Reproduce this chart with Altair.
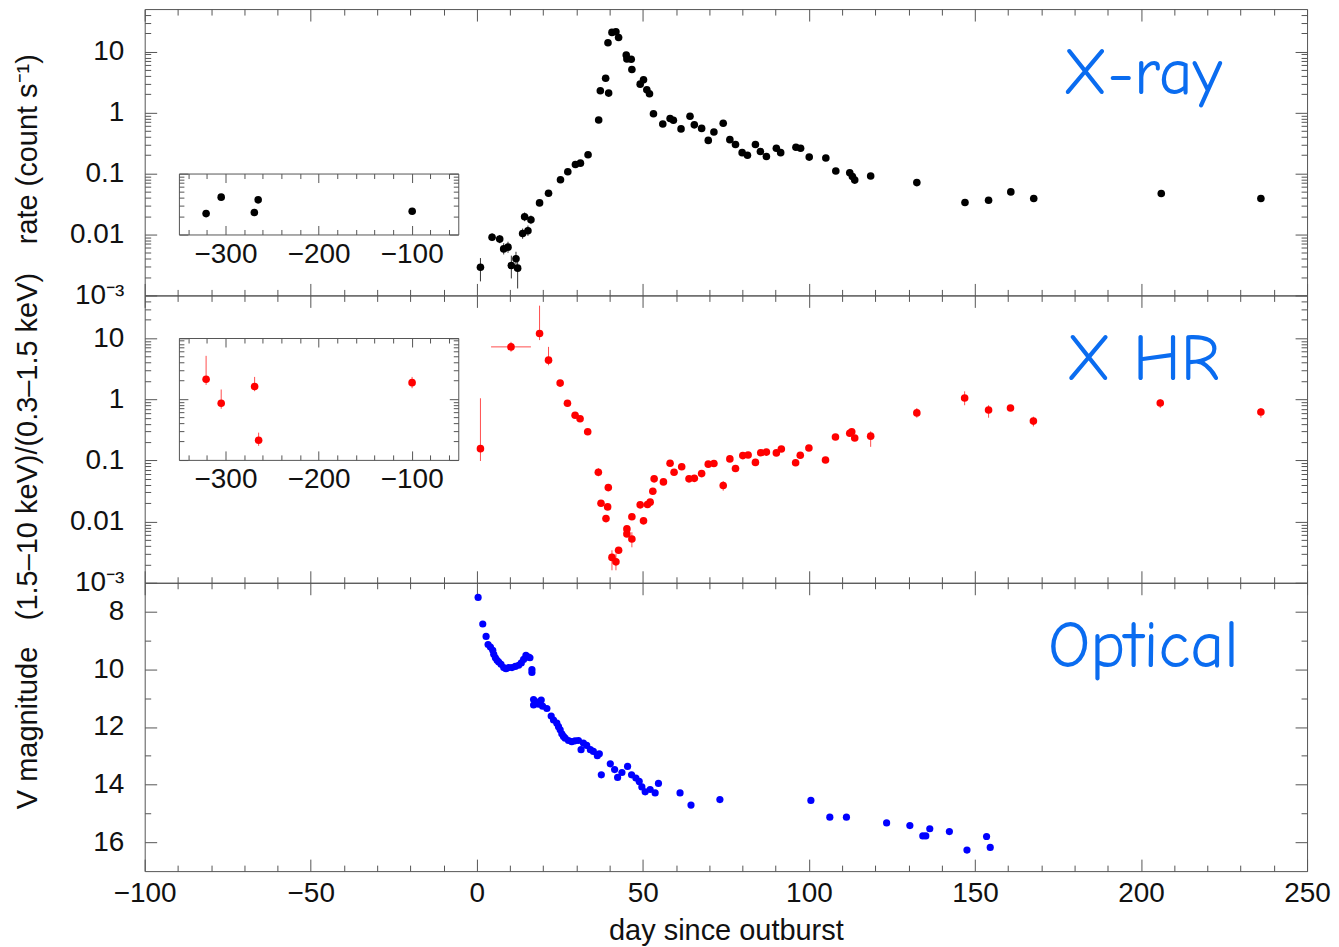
import math
import altair as alt
import pandas as pd

# ------------------------------------------------------------------ data
# X-ray count rate (top panel)
xray_day = [1.1, 4.6, 6.9, 8.1, 9.4, 10.4, 11.8, 12.3, 13.8, 14.4, 15.4, 16.3,
            18.9, 21.6, 25.2, 27.4, 29.7, 31.2, 33.5, 36.7, 37.2, 38.8, 39.7, 39.5,
            40.7, 41.9, 42.7, 45.0, 46.5, 45.2, 46.7, 50.2, 49.2, 51.2, 52.0, 53.2,
            56.0, 58.2, 59.2, 61.5, 64.2, 65.5, 67.7, 69.7, 71.4, 74.2, 76.2, 77.9,
            79.9, 81.5, 83.9, 85.4, 87.2, 90.2, 91.5, 96.1, 97.5, 100.1, 105.1, 108.1,
            112.3, 113.1, 113.8, 118.6, 132.5, 147.0, 154.1, 160.8, 167.7, 206.1, 236.1]
xray_rate = [0.0029, 0.0090, 0.0084, 0.0058, 0.0062, 0.0031, 0.0040, 0.0028, 0.0104, 0.0195, 0.0115, 0.0174,
             0.033, 0.0475, 0.079, 0.107, 0.141, 0.148, 0.203, 0.757, 2.28, 3.67, 2.09, 14.0,
             20.7, 21.2, 17.1, 8.8, 7.5, 7.6, 5.1, 3.45, 2.93, 2.37, 2.04, 0.96,
             0.65, 0.80, 0.75, 0.54, 0.87, 0.63, 0.55, 0.35, 0.48, 0.67, 0.36, 0.30,
             0.22, 0.20, 0.30, 0.23, 0.19, 0.26, 0.22, 0.27, 0.26, 0.186, 0.18, 0.11,
             0.103, 0.089, 0.078, 0.091, 0.071, 0.0334, 0.0365, 0.050, 0.039, 0.047, 0.039]
xray_err_day = [1.1, 4.6, 6.9, 8.1, 9.4, 10.4, 11.8, 12.3, 13.8, 14.4, 15.4, 16.3]
xray_err_lo = [0.0017, 0.0078, 0.0072, 0.0047, 0.0050, 0.0019, 0.0030, 0.0013, 0.0085, 0.0165, 0.0095, 0.0148]
xray_err_hi = [0.0041, 0.0105, 0.0098, 0.0072, 0.0076, 0.0045, 0.0052, 0.0040, 0.0125, 0.0230, 0.0140, 0.0205]
# pre-outburst X-ray (inset)
xray_pre_day = [-320.8, -304.6, -269.0, -264.9, -99.5]
xray_pre_rate = [0.022, 0.041, 0.023, 0.037, 0.024]

# hardness ratio (middle panel)
hr_day = [1.1, 10.3, 18.9, 21.6, 25.1, 27.3, 29.6, 31.1, 33.4, 36.6, 37.4, 39.6,
          39.4, 38.9, 40.7, 41.9, 42.7, 45.2, 45.2, 46.7, 46.7, 49.2, 50.2, 51.4,
          52.2, 53.0, 53.4, 56.2, 58.2, 59.4, 61.7, 63.9, 65.5, 67.7, 69.7, 71.4,
          74.2, 76.2, 77.9, 80.1, 81.7, 83.9, 85.5, 87.2, 90.2, 91.7, 96.0, 97.4,
          100.0, 105.0, 108.0, 112.3, 112.9, 113.8, 118.6, 132.5, 146.9, 154.1, 160.7, 167.6,
          205.8, 236.1]
hr_val = [0.156, 7.2, 11.9, 4.37, 1.84, 0.86, 0.55, 0.48, 0.295, 0.064, 0.020, 0.036,
          0.0174, 0.0112, 0.0026, 0.0022, 0.0034, 0.0076, 0.0063, 0.0052, 0.012, 0.0188, 0.0103, 0.019,
          0.0208, 0.0314, 0.050, 0.0446, 0.090, 0.064, 0.079, 0.050, 0.051, 0.061, 0.087, 0.089,
          0.039, 0.106, 0.074, 0.12, 0.123, 0.093, 0.134, 0.137, 0.133, 0.154, 0.092, 0.122,
          0.16, 0.102, 0.242, 0.278, 0.295, 0.233, 0.25, 0.60, 1.05, 0.67, 0.72, 0.44,
          0.87, 0.62]
hr_err_day = [1.1, 10.3, 18.9, 21.6, 36.6, 40.7, 41.9, 46.7, 74.2, 118.6, 132.5, 146.9, 154.1, 167.6, 205.8, 236.1]
hr_err_lo = [0.098, 6.0, 9.3, 3.6, 0.055, 0.0016, 0.0016, 0.0038, 0.032, 0.167, 0.50, 0.80, 0.50, 0.36, 0.72, 0.50]
hr_err_hi = [1.04, 8.7, 34.0, 7.2, 0.075, 0.0034, 0.0030, 0.0067, 0.046, 0.30, 0.72, 1.35, 0.80, 0.52, 1.00, 0.72]
hr_xerr_val = [7.2]
hr_xerr_lo = [4.3]
hr_xerr_hi = [16.3]
# pre-outburst hardness ratio (inset)
hr_pre_day = [-320.8, -304.6, -268.7, -264.4, -99.6]
hr_pre_val = [2.1, 0.85, 1.6, 0.21, 1.85]
hr_pre_lo = [1.7, 0.69, 1.34, 0.17, 1.5]
hr_pre_hi = [5.1, 1.43, 2.3, 0.28, 2.3]

# optical V magnitude (bottom panel)
opt_day = [0.4, 1.8, 2.8, 3.4, 4.1, 4.8, 5.1, 5.6, 6.1, 6.6, 7.3, 8.1, 8.8, 9.6, 10.6,
           11.6, 12.6, 13.4, 14.1, 14.8, 15.6, 16.0, 16.6, 16.6, 17.1, 17.1, 17.8, 18.6,
           19.4, 19.8, 21.1, 22.4, 23.1, 24.1, 24.6, 25.1, 25.6, 26.1, 26.6, 27.6, 28.6,
           29.6, 30.6, 31.4, 32.1, 33.1, 34.2, 35.1, 36.3, 36.9, 37.5, 40.2, 41.5, 42.4,
           43.7, 45.4, 46.6, 47.9, 48.9, 49.7, 50.7, 52.2, 53.7, 54.7, 61.2, 64.5, 73.2,
           100.6, 106.3, 111.3, 123.4, 130.4, 134.3, 135.2, 136.4, 142.3, 147.6, 153.5, 154.6]
opt_mag = [7.51, 8.43, 8.86, 9.14, 9.23, 9.34, 9.48, 9.60, 9.69, 9.75, 9.83, 9.94, 9.98, 9.94, 9.94,
           9.90, 9.86, 9.78, 9.66, 9.52, 9.58, 9.60, 10.01, 10.11, 11.05, 11.24, 11.13, 11.21,
           11.07, 11.28, 11.36, 11.62, 11.76, 11.87, 11.99, 12.10, 12.24, 12.33, 12.39, 12.47, 12.51,
           12.48, 12.47, 12.79, 12.56, 12.64, 12.79, 12.85, 13.00, 12.93, 13.66, 13.28, 13.48, 13.75,
           13.58, 13.37, 13.66, 13.77, 13.89, 14.08, 14.25, 14.17, 14.29, 13.96, 14.29, 14.71, 14.52,
           14.55, 15.13, 15.13, 15.33, 15.42, 15.78, 15.78, 15.53, 15.63, 16.27, 15.80, 16.18]

# panel annotations
panel_text = ["X-ray", "X HR", "Optical"]
panel_text_day = [200.4, 200.6, 200.7]
panel_text_pos = [2.0, 2.06, 9.93]

# tick values / labels
x_major = [-100, -50, 0, 50, 100, 150, 200, 250]
x_minor = [-90, -80, -70, -60, -40, -30, -20, -10, 10, 20, 30, 40, 60, 70, 80, 90,
           110, 120, 130, 140, 160, 170, 180, 190, 210, 220, 230, 240]
log_major = [0.001, 0.01, 0.1, 1, 10]
log_minor = [m * 10.0 ** e for e in range(-3, 2) for m in range(2, 10) if m * 10.0 ** e < 50]
mag_major = [8, 10, 12, 14, 16]
mag_minor = [9, 11, 13, 15]
ins_x_major = [-300, -200, -100]
ins_x_minor = [-340, -320, -280, -260, -240, -220, -180, -160, -140, -120, -80, -60]
ins_top_major = [0.01, 0.1]
ins_top_minor = [0.02, 0.03, 0.04, 0.05, 0.06, 0.07, 0.08, 0.09]
ins_mid_major = [0.1, 1, 10]
ins_mid_minor = [0.2, 0.3, 0.4, 0.5, 0.6, 0.7, 0.8, 0.9, 2, 3, 4, 5, 6, 7, 8, 9]

# ------------------------------------------------------------------ layout
W, H = 1165, 864
Y1, Y2 = 287, 575
INS_L, INS_R = 34.3, 314.3
GRAY = "#555555"
INK = "#111111"
FONT = "Liberation Sans"
MAJ, MIN = 12, 6
IMAJ, IMIN = 9, 5
LAB_FS = 28
TIT_FS = 29


def ytop_px(v):
    return Y1 - (math.log10(v) + 3) / (math.log10(50) + 3) * Y1


SCALES = {
    "x": ([-100, 250], [0, W], False),
    "top": ([1e-3, 50], [Y1, 0], True),
    "mid": ([1e-3, 50], [Y2, Y1], True),
    "bot": ([7, 17], [Y2, H], False),
    "xin": ([-350, -50], [INS_L, INS_R], False),
    "yin_top": ([0.01, 0.1], [ytop_px(0.01), ytop_px(0.1)], True),
    "yin_mid": ([0.1, 10], [Y1 + ytop_px(0.1), Y1 + ytop_px(10)], True),
}


def S(name):
    dom, rng, lg = SCALES[name]
    if lg:
        return alt.Scale(type="log", domain=dom, range=rng, nice=False)
    return alt.Scale(domain=dom, range=rng, nice=False, zero=False)


def edge(orient, pos, size, values, domain):
    off = {"top": -pos, "bottom": pos - H, "left": -pos, "right": pos - W}[orient]
    return alt.Axis(orient=orient, offset=off, values=values, tickSize=size, ticks=True,
                    labels=False, domain=domain, domainColor=GRAY, domainWidth=1,
                    tickColor=GRAY, tickWidth=1, title=None, grid=False)


def axes_layer(xname, yname, xaxis, yaxis):
    df = pd.DataFrame({"ax": [SCALES[xname][0][0]], "ay": [SCALES[yname][0][0]]})
    return alt.Chart(df).mark_point(opacity=0, size=1).encode(
        x=alt.X("ax:Q", scale=S(xname), axis=xaxis),
        y=alt.Y("ay:Q", scale=S(yname), axis=yaxis),
    )


def frame_layers(xname, yname, top, bot, left, right, xmaj, xmin, ymaj, ymin,
                 big, small, extra_x=None, extra_y=None):
    xs = [edge("bottom", top, big, xmaj, True), edge("bottom", top, small, xmin, False),
          edge("top", bot, big, xmaj, True), edge("top", bot, small, xmin, False)]
    ys = [edge("right", left, big, ymaj, True), edge("right", left, small, ymin, False),
          edge("left", right, big, ymaj, True), edge("left", right, small, ymin, False)]
    if extra_x is not None:
        xs.append(extra_x)
    if extra_y is not None:
        ys.append(extra_y)
    out = []
    for i in range(max(len(xs), len(ys))):
        out.append(axes_layer(xname, yname, xs[i] if i < len(xs) else None,
                              ys[i] if i < len(ys) else None))
    return out


LOG_EXPR = "datum.value < 0.002 ? '10⁻³' : format(datum.value, '~g')"


def ylab(values, title, title_y, expr=None):
    kw = dict(orient="left", offset=0, values=values, ticks=False, tickSize=0, domain=False,
              labelPadding=21, labelFont=FONT, labelFontSize=LAB_FS, labelColor=INK,
              labelOverlap=False, labelFlush=False,
              title=title, titleFont=FONT, titleFontSize=TIT_FS, titleFontWeight="normal",
              titleColor=INK, titleX=-117, titleY=title_y, titleBaseline="middle", grid=False)
    if expr:
        kw["labelExpr"] = expr
    return alt.Axis(**kw)


x_label_axis = alt.Axis(orient="bottom", offset=0, values=x_major, ticks=False, tickSize=0,
                        domain=False, labelPadding=8, labelFont=FONT, labelFontSize=LAB_FS,
                        labelColor=INK, labelFlush=False, labelOverlap=False,
                        title="day since outburst", titleFont=FONT, titleFontSize=TIT_FS,
                        titleFontWeight="normal", titleColor=INK, titleY=60,
                        titleBaseline="middle", grid=False)


def ins_x_label_axis(bot):
    return alt.Axis(orient="bottom", offset=bot - H, values=ins_x_major, ticks=False, tickSize=0,
                    domain=False, labelPadding=6, labelFont=FONT, labelFontSize=LAB_FS,
                    labelColor=INK, labelFlush=False, labelOverlap=False, title=None, grid=False)


layers = []
# main frames
layers += frame_layers("x", "top", 0, Y1, 0, W, x_major, x_minor, log_major, log_minor, MAJ, MIN,
                       extra_y=ylab(log_major, "rate (count s⁻¹)", 140, LOG_EXPR))
layers += frame_layers("x", "mid", Y1, Y2, 0, W, x_major, x_minor, log_major, log_minor, MAJ, MIN,
                       extra_y=ylab(log_major, "(1.5–10 keV)/(0.3–1.5 keV)", 438, LOG_EXPR))
layers += frame_layers("x", "bot", Y2, H, 0, W, x_major, x_minor, mag_major, mag_minor, MAJ, MIN,
                       extra_x=x_label_axis, extra_y=ylab(mag_major, "V magnitude", 720))
# inset frames
it_top, it_bot = SCALES["yin_top"][1][1], SCALES["yin_top"][1][0]
im_top, im_bot = SCALES["yin_mid"][1][1], SCALES["yin_mid"][1][0]
layers += frame_layers("xin", "yin_top", it_top, it_bot, INS_L, INS_R, ins_x_major, ins_x_minor,
                       ins_top_major, ins_top_minor, IMAJ, IMIN, extra_x=ins_x_label_axis(it_bot))
layers += frame_layers("xin", "yin_mid", im_top, im_bot, INS_L, INS_R, ins_x_major, ins_x_minor,
                       ins_mid_major, ins_mid_minor, IMAJ, IMIN, extra_x=ins_x_label_axis(im_bot))


def pts(df, xf, yf, xs, ys, color, size):
    return alt.Chart(df).mark_circle(size=size, color=color, opacity=1).encode(
        x=alt.X(f"{xf}:Q", scale=S(xs), axis=None),
        y=alt.Y(f"{yf}:Q", scale=S(ys), axis=None))


def vbars(df, xf, lo, hi, xs, ys, color, opacity=1.0):
    return alt.Chart(df).mark_rule(color=color, strokeWidth=1, opacity=opacity).encode(
        x=alt.X(f"{xf}:Q", scale=S(xs), axis=None),
        y=alt.Y(f"{lo}:Q", scale=S(ys), axis=None),
        y2=f"{hi}:Q")


df_x = pd.DataFrame({"day": xray_day, "v": xray_rate})
df_xe = pd.DataFrame({"day": xray_err_day, "lo": xray_err_lo, "hi": xray_err_hi})
df_xp = pd.DataFrame({"day": xray_pre_day, "v": xray_pre_rate})
df_h = pd.DataFrame({"day": hr_day, "v": hr_val})
df_he = pd.DataFrame({"day": hr_err_day, "lo": hr_err_lo, "hi": hr_err_hi})
df_hx = pd.DataFrame({"v": hr_xerr_val, "lo": hr_xerr_lo, "hi": hr_xerr_hi})
df_hp = pd.DataFrame({"day": hr_pre_day, "v": hr_pre_val, "lo": hr_pre_lo, "hi": hr_pre_hi})
df_o = pd.DataFrame({"day": opt_day, "v": opt_mag})

RED = "#ff0000"
BLUE = "#0000ff"

layers += [
    vbars(df_xe, "day", "lo", "hi", "x", "top", "#333333"),
    pts(df_x, "day", "v", "x", "top", "black", 58),
    pts(df_xp, "day", "v", "xin", "yin_top", "black", 58),
    vbars(df_he, "day", "lo", "hi", "x", "mid", RED, 0.7),
    alt.Chart(df_hx).mark_rule(color=RED, strokeWidth=1, opacity=0.7).encode(
        x=alt.X("lo:Q", scale=S("x"), axis=None), x2="hi:Q",
        y=alt.Y("v:Q", scale=S("mid"), axis=None)),
    pts(df_h, "day", "v", "x", "mid", RED, 58),
    vbars(df_hp, "day", "lo", "hi", "xin", "yin_mid", RED, 0.7),
    pts(df_hp, "day", "v", "xin", "yin_mid", RED, 58),
    pts(df_o, "day", "v", "x", "bot", BLUE, 52),
]

for txt, d, p, ys in zip(panel_text, panel_text_day, panel_text_pos, ["top", "mid", "bot"]):
    df_t = pd.DataFrame({"day": [d], "v": [p], "t": [txt]})
    layers.append(
        alt.Chart(df_t).mark_text(font="Comic Sans MS, Comic Neue, Lato", fontSize=66,
                                  color="#0a6cf0", align="center", baseline="alphabetic").encode(
            x=alt.X("day:Q", scale=S("x"), axis=None),
            y=alt.Y("v:Q", scale=S(ys), axis=None),
            text="t:N"))

chart = alt.layer(*layers).resolve_scale(x="independent", y="independent").resolve_axis(
    x="independent", y="independent"
).properties(
    width=W, height=H,
    padding={"left": 137, "top": 0, "right": 24, "bottom": 80},
    autosize=alt.AutoSizeParams(type="none"),
    background="white",
).configure_view(stroke="transparent")

chart.save("out.html", embed_options={"renderer": "svg", "actions": False})
